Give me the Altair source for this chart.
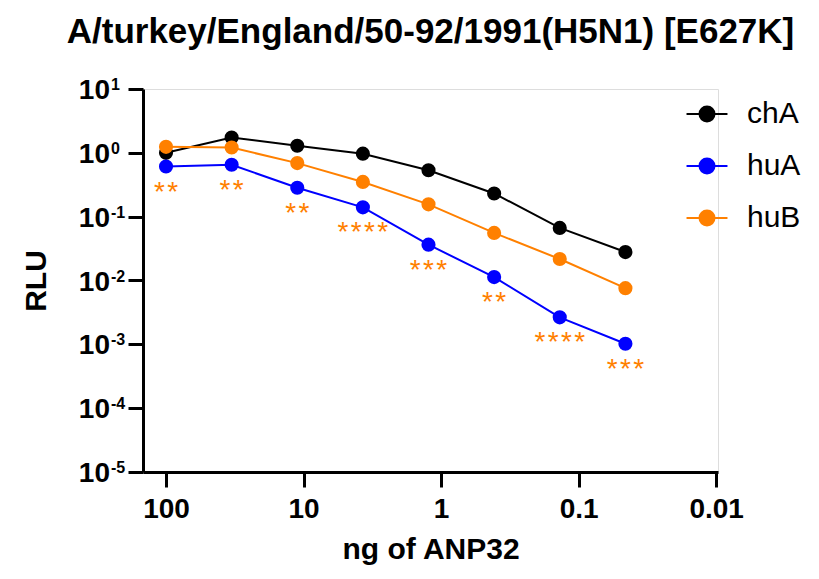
import altair as alt
import pandas as pd

# ---- data ----
ng_anp32 = [100, 33.33, 11.11, 3.704, 1.235, 0.4115, 0.1372, 0.0457]
series_names = ["chA", "huA", "huB"]
rlu_chA = [1.0, 1.74, 1.29, 0.97, 0.534, 0.231, 0.0666, 0.0279]
rlu_huA = [0.61, 0.65, 0.284, 0.14, 0.0364, 0.0113, 0.00265, 0.00102]
rlu_huB = [1.24, 1.21, 0.69, 0.35, 0.156, 0.0557, 0.0217, 0.00758]
stars_huA = ["**", "**", "**", "****", "***", "**", "****", "***"]
y_ticks = [1e-5, 1e-4, 1e-3, 1e-2, 1e-1, 1e0, 1e1]
y_exponents = ["-5", "-4", "-3", "-2", "-1", "0", "1"]
x_ticks = [100, 10, 1, 0.1, 0.01]
colors = ["#000000", "#0000FF", "#FF8000"]

rows = []
for name, vals in zip(series_names, [rlu_chA, rlu_huA, rlu_huB]):
    for x, v in zip(ng_anp32, vals):
        rows.append({"ng": x, "rlu": v, "series": name})
df = pd.DataFrame(rows)

star_df = pd.DataFrame({
    "ng": ng_anp32,
    "rlu": rlu_huA,
    "stars": ["\u200a".join(list(s)) for s in stars_huA],
})

ytick_df = pd.DataFrame({"rlu": y_ticks, "base": ["10"] * len(y_ticks), "exp": y_exponents})

FONT = "Liberation Sans"

x_scale = alt.Scale(type="log", domain=[0.0097, 147], reverse=True, nice=False)
y_scale = alt.Scale(type="log", domain=[1e-5, 10], nice=False)

x_enc = alt.X(
    "ng:Q",
    scale=x_scale,
    axis=alt.Axis(
        values=x_ticks,
        labelExpr="format(datum.value, '~g')",
        title="ng of ANP32",
        grid=False,
        tickSize=15,
        tickWidth=3,
        domainWidth=3,
        domainColor="black",
        tickColor="black",
        labelFont=FONT,
        labelFontSize=28,
        labelFontWeight="bold",
        labelColor="black",
        labelPadding=8,
        titleFont=FONT,
        titleFontSize=30,
        titleFontWeight="bold",
        titleColor="black",
        titlePadding=11,
        labelFlush=False,
        labelOverlap=False,
    ),
)

y_enc = alt.Y(
    "rlu:Q",
    scale=y_scale,
    axis=alt.Axis(
        values=y_ticks,
        labels=False,
        title="RLU",
        grid=False,
        tickSize=15,
        tickWidth=3,
        domainWidth=3,
        domainColor="black",
        tickColor="black",
        titleFont=FONT,
        titleFontSize=30,
        titleFontWeight="bold",
        titleColor="black",
        titlePadding=75,
    ),
)

legend_path = "M-2.73,0H2.73M-1,0a1,1 0 1,0 2,0a1,1 0 1,0 -2,0"
color_enc = alt.Color(
    "series:N",
    scale=alt.Scale(domain=series_names, range=colors),
    legend=alt.Legend(
        title=None,
        orient="none",
        legendX=549,
        legendY=10,
        padding=0,
        symbolType=legend_path,
        symbolSize=225,
        symbolStrokeWidth=2,
        symbolOpacity=1,
        labelFont=FONT,
        labelFontSize=30,
        labelColor="black",
        labelOffset=25,
        rowPadding=22,
    ),
)

base = alt.Chart(df).encode(x=x_enc, y=y_enc, color=color_enc)
lines = base.mark_line(strokeWidth=2)
points = base.mark_circle(size=200, opacity=1)

stars = alt.Chart(star_df).mark_text(
    font=FONT, fontSize=28, color="#FF8000", baseline="alphabetic", align="center", dy=34
).encode(x="ng:Q", y="rlu:Q", text="stars:N")

ylab_base = alt.Chart(ytick_df).mark_text(
    font=FONT, fontSize=28, fontWeight="bold", color="black", align="right",
    baseline="alphabetic", dy=10
).encode(x=alt.value(-33), y=alt.Y("rlu:Q", scale=y_scale), text="base:N")

ylab_exp = alt.Chart(ytick_df).mark_text(
    font=FONT, fontSize=16, fontWeight="bold", color="black", align="left",
    baseline="alphabetic", dy=1
).encode(x=alt.value(-32), y=alt.Y("rlu:Q", scale=y_scale), text="exp:N")

chart = alt.layer(lines, points, stars, ylab_base, ylab_exp).properties(
    width=575,
    height=383,
    title=alt.TitleParams(
        "A/turkey/England/50-92/1991(H5N1) [E627K]",
        font=FONT,
        fontSize=35,
        fontWeight="bold",
        color="black",
        anchor="middle",
        offset=27,
    ),
    autosize=alt.AutoSizeParams(type="none"),
    padding={"left": 135, "top": 81, "right": 93, "bottom": 99},
).configure_view(stroke=None).configure(background="white")

chart.save("out.html", embed_options={"renderer": "svg", "actions": False})
